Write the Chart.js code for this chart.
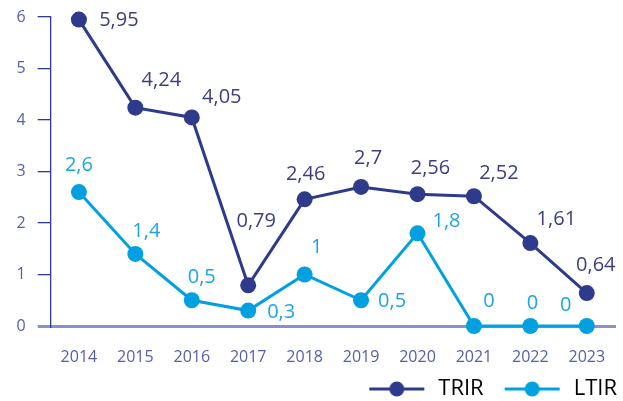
<!DOCTYPE html>
<html>
<head>
<meta charset="utf-8">
<title>TRIR / LTIR</title>
<script src="https://cdn.jsdelivr.net/npm/chart.js@4.4.1/dist/chart.umd.min.js"></script>
<style>
  html, body { margin: 0; padding: 0; background: #fff; }
  canvas { display: block; }
</style>
</head>
<body>
<canvas id="lineChart" width="623" height="401"></canvas>
<script>
// data
const years = ['2014', '2015', '2016', '2017', '2018', '2019', '2020', '2021', '2022', '2023'];
const trirValues = [5.95, 4.24, 4.05, 0.79, 2.46, 2.7, 2.56, 2.52, 1.61, 0.64];
const ltirValues = [2.6, 1.4, 0.5, 0.3, 1, 0.5, 1.8, 0, 0, 0];
const yTickValues = [0, 1, 2, 3, 4, 5, 6];
const seriesNames = ['TRIR', 'LTIR'];

const navy = '#2e3a8c';
const cyan = '#00a0e1';
const axisText = '#5560aa';

// where each value label sits, relative to its point (dx, dy)
const labelOffsets = [
    [[40, 1], [26, -27], [30, -20], [8, -64], [1, -25], [7, -29], [13, -26], [25, -23], [26, -24], [9, -28]],
    [[0, -27], [11, -23], [10, -23], [33, 2], [12, -27], [31, 1], [29, -12], [15, -25], [2, -23], [-21, -21]]
];
const labelColors = ['#3b3f7f', '#1ba6e2'];

Chart.defaults.font.family = '"Open Sans", sans-serif';

function legendIcon(color) {
    // line with a dot, with some empty room on the left as item spacing
    const c = document.createElement('canvas');
    c.width = 78;
    c.height = 18;
    const g = c.getContext('2d');
    g.strokeStyle = color;
    g.lineWidth = 3;
    g.beginPath();
    g.moveTo(20, 9);
    g.lineTo(75, 9);
    g.stroke();
    g.fillStyle = color;
    g.beginPath();
    g.arc(47.5, 9, 7.5, 0, Math.PI * 2);
    g.fill();
    return c;
}

const valueLabels = {
    id: 'valueLabels',
    afterDatasetsDraw(chart) {
        const ctx = chart.ctx;
        chart.data.datasets.forEach((ds, di) => {
            const meta = chart.getDatasetMeta(di);
            ctx.save();
            ctx.font = '20px "Open Sans", sans-serif';
            ctx.fillStyle = labelColors[di];
            ctx.textAlign = 'center';
            ctx.textBaseline = 'middle';
            meta.data.forEach((pt, i) => {
                const txt = String(ds.data[i]).replace('.', ',');
                ctx.fillText(txt, pt.x + labelOffsets[di][i][0], pt.y + labelOffsets[di][i][1]);
            });
            ctx.restore();
        });
    }
};

const lineDataset = (label, values, color) => ({
    label: label,
    data: values,
    borderColor: color,
    backgroundColor: color,
    borderWidth: 3,
    pointRadius: 8,
    pointHoverRadius: 8,
    pointBorderWidth: 0,
    pointBackgroundColor: color,
    tension: 0,
    clip: false
});

new Chart(document.getElementById('lineChart'), {
    type: 'line',
    data: {
        labels: years,
        datasets: [
            lineDataset(seriesNames[0], trirValues, navy),
            lineDataset(seriesNames[1], ltirValues, cyan)
        ]
    },
    options: {
        responsive: false,
        animation: false,
        layout: { padding: { top: 17, right: 5, bottom: -9, left: 0 } },
        scales: {
            x: {
                offset: true,
                grid: { display: false },
                border: { display: true, color: '#8a90c8', width: 3 },
                ticks: { color: axisText, font: { size: 16 }, padding: 14, maxRotation: 0 },
                afterFit: s => { s.height = 51; }
            },
            y: {
                min: 0,
                max: 6,
                afterBuildTicks: s => { s.ticks = yTickValues.map(v => ({ value: v })); },
                grid: {
                    drawOnChartArea: false,
                    drawTicks: true,
                    tickLength: 13,
                    color: ctx => ctx.index === 0 ? '#8a90c8' : navy,
                    lineWidth: ctx => ctx.index === 0 ? 3 : 1.3
                },
                border: { display: true, color: navy, width: 1.3 },
                ticks: { color: axisText, font: { size: 16 }, padding: 12 },
                afterFit: s => {
                    s.width = 50.7;
                    s.paddingTop = 0;
                    s.paddingBottom = 0;
                }
            }
        },
        plugins: {
            tooltip: { enabled: false },
            legend: {
                position: 'bottom',
                align: 'end',
                labels: {
                    usePointStyle: true,
                    pointStyleWidth: 78,
                    padding: 1,
                    color: '#3b3f7f',
                    font: { size: 22 },
                    generateLabels: chart => chart.data.datasets.map((ds, i) => ({
                        text: ds.label,
                        datasetIndex: i,
                        pointStyle: legendIcon(ds.borderColor),
                        fillStyle: ds.borderColor,
                        strokeStyle: ds.borderColor,
                        lineWidth: 0,
                        hidden: !chart.isDatasetVisible(i)
                    }))
                }
            }
        }
    },
    plugins: [valueLabels]
});
</script>
</body>
</html>
